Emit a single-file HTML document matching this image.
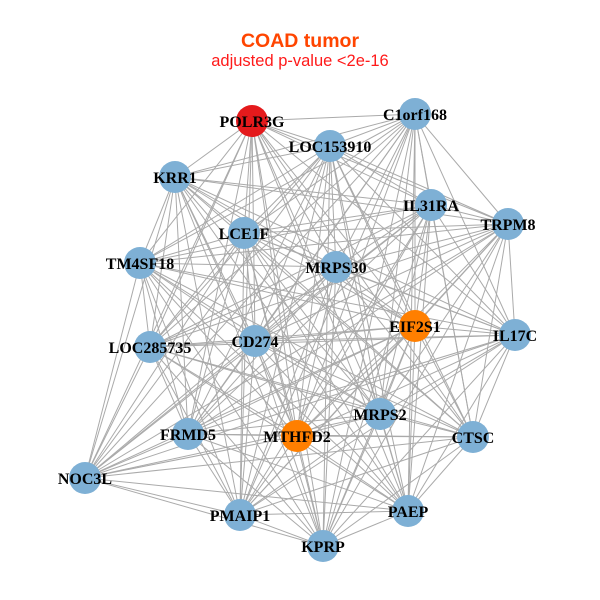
<!DOCTYPE html>
<html><head><meta charset="utf-8"><style>body{margin:0;background:#fff}svg{display:block}</style></head>
<body>
<svg id="s" width="600" height="600" xmlns="http://www.w3.org/2000/svg">
<rect width="600" height="600" fill="#fff"/>
<text x="300" y="47" text-anchor="middle" font-family="Liberation Sans, sans-serif" font-weight="bold" font-size="19.5" fill="#ff4500">COAD tumor</text>
<text x="300" y="66" text-anchor="middle" font-family="Liberation Sans, sans-serif" font-size="16.5" fill="#ff1a1a">adjusted p-value &lt;2e-16</text>
<g id="e" stroke="#aaaaaa" stroke-width="1"></g>
<g id="n"></g>
</svg>
<script>
var N=[["POLR3G",252,121,"#e41a1c"],["C1orf168",415,114],["LOC153910",330,146],["KRR1",175,177],["IL31RA",431,205],["TRPM8",508,224],["LCE1F",244,233],["TM4SF18",140,263],["MRPS30",336,267],["EIF2S1",415,326,"#ff7f00"],["IL17C",515,335],["LOC285735",150,347],["CD274",255,341],["MRPS2",380,414],["CTSC",473,437],["FRMD5",188,434],["MTHFD2",297,436,"#ff7f00"],["NOC3L",85,478],["PAEP",408,511],["PMAIP1",240,515],["KPRP",323,546]];
var ns="http://www.w3.org/2000/svg",e=document.getElementById("e"),g=document.getElementById("n");
for(var i=0;i<N.length;i++)for(var j=i+1;j<N.length;j++){var l=document.createElementNS(ns,"line");l.setAttribute("x1",N[i][1]);l.setAttribute("y1",N[i][2]);l.setAttribute("x2",N[j][1]);l.setAttribute("y2",N[j][2]);e.appendChild(l);}
N.forEach(function(d){var c=document.createElementNS(ns,"circle");c.setAttribute("cx",d[1]);c.setAttribute("cy",d[2]);c.setAttribute("r",16);c.setAttribute("fill",d[3]||"#7eb0d5");g.appendChild(c);});
N.forEach(function(d){var t=document.createElementNS(ns,"text");t.setAttribute("x",d[1]);t.setAttribute("y",d[2]+6);t.setAttribute("text-anchor","middle");t.setAttribute("font-family","Liberation Serif, serif");t.setAttribute("font-weight","bold");t.setAttribute("font-size","16");t.textContent=d[0];g.appendChild(t);});
</script>
</body></html>
